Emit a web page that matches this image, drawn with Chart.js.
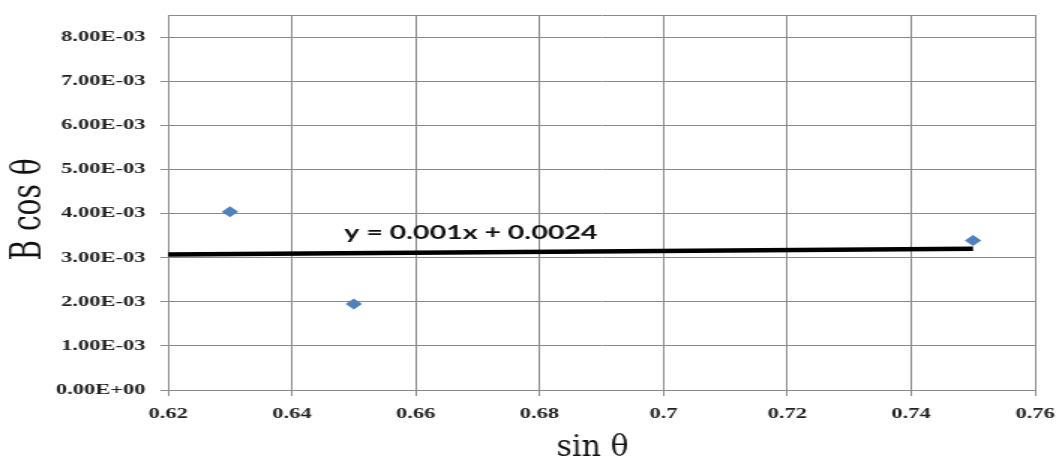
<!DOCTYPE html>
<html>
<head>
<meta charset="utf-8">
<script src="https://cdn.jsdelivr.net/npm/chart.js@4"></script>
<style>
  html, body { margin: 0; padding: 0; background: #fff; }
</style>
</head>
<body>
<!-- the original picture is stretched sideways, so the canvas is too -->
<canvas id="c" width="704" height="460" style="display:block;width:1056px;height:460px"></canvas>
<script>
// --- data ---
const sinTheta = [0.63, 0.65, 0.75];
const bCosTheta = [0.00404, 0.00195, 0.00339];

// trendline (as drawn)
const trendX = [0.62, 0.75];
const trendY = [0.00307, 0.0032];
const trendLabel = 'y = 0.001x + 0.0024';
const trendLabelAt = [0.6689, 0.00357];

// axes
const xTickVals = [0.62, 0.64, 0.66, 0.68, 0.7, 0.72, 0.74, 0.76];
const yTickVals = [0, 0.001, 0.002, 0.003, 0.004, 0.005, 0.006, 0.007, 0.008];
const yTop = 0.0085;

const STRETCH = 1056 / 704;
const gridGray = '#8a8a8a';

// 8.00E-03 style labels
function sciLabel(v) {
    if (Math.abs(v) < 1e-12) return '0.00E+00';
    const e = Math.floor(Math.log10(Math.abs(v)) + 1e-9);
    const m = (v / Math.pow(10, e)).toFixed(2);
    return m + 'E' + (e < 0 ? '-' : '+') + String(Math.abs(e)).padStart(2, '0');
}

// 1. equation text next to the trendline
const equationPlugin = {
    id: 'equation',
    afterDatasetsDraw(chart) {
        const ctx = chart.ctx;
        const x = chart.scales.x.getPixelForValue(trendLabelAt[0]);
        const y = chart.scales.y.getPixelForValue(trendLabelAt[1]);
        ctx.save();
        ctx.font = 'bold 19px Lato, "Liberation Sans", sans-serif';
        ctx.fillStyle = '#111';
        ctx.textAlign = 'center';
        ctx.textBaseline = 'middle';
        ctx.fillText(trendLabel, x, y);
        ctx.restore();
    }
};

// 2. x axis title, drawn without the sideways stretch
const xTitlePlugin = {
    id: 'xTitle',
    afterDraw(chart) {
        const ctx = chart.ctx;
        const a = chart.chartArea;
        ctx.save();
        ctx.font = '30px "DejaVu Serif", serif';
        ctx.fillStyle = '#111';
        ctx.textAlign = 'center';
        ctx.textBaseline = 'alphabetic';
        ctx.translate((a.left + a.right) / 2 - 6, chart.height - 4);
        ctx.scale(1 / STRETCH, 1);
        ctx.fillText('sin \u03b8', 0, 0);
        ctx.restore();
    }
};

new Chart(document.getElementById('c'), {
    type: 'scatter',
    data: {
        datasets: [
            {
                label: 'B cos θ',
                data: sinTheta.map((x, i) => ({ x: x, y: bCosTheta[i] })),
                pointStyle: 'rectRot',
                pointRadius: 5.5,
                backgroundColor: '#4f81bd',
                borderColor: '#4f81bd',
                borderWidth: 0,
                order: 1
            },
            {
                type: 'line',
                label: 'trend',
                data: trendX.map((x, i) => ({ x: x, y: trendY[i] })),
                borderColor: '#000',
                borderWidth: 4.5,
                pointRadius: 0,
                fill: false,
                order: 2
            }
        ]
    },
    options: {
        responsive: false,
        devicePixelRatio: 1,
        animation: false,
        layout: { padding: { left: 0, right: 14, top: 15, bottom: 28 } },
        plugins: {
            legend: { display: false },
            tooltip: { enabled: false }
        },
        scales: {
            x: {
                type: 'linear',
                min: xTickVals[0],
                max: xTickVals[xTickVals.length - 1],
                afterBuildTicks: (s) => { s.ticks = xTickVals.map(v => ({ value: v })); },
                afterFit: (s) => { s.paddingLeft = 0; s.paddingRight = 0; },
                grid: { color: gridGray, lineWidth: 1, tickLength: 6 },
                border: { color: gridGray },
                ticks: {
                    padding: 9,
                    color: '#222',
                    font: { family: '"Liberation Serif", serif', size: 15, weight: 'bold' },
                    callback: (v) => String(Number(v.toFixed(2)))
                }
            },
            y: {
                type: 'linear',
                min: 0,
                max: yTop,
                afterBuildTicks: (s) => { s.ticks = yTickVals.concat([yTop]).map(v => ({ value: v })); },
                afterFit: (s) => { s.width = 112; s.paddingTop = 0; s.paddingBottom = 0; },
                grid: {
                    color: gridGray,
                    lineWidth: 1,
                    tickLength: 5,
                    tickColor: (c) => (c.tick && c.tick.value === yTop ? 'rgba(0,0,0,0)' : gridGray)
                },
                border: { color: gridGray },
                title: {
                    display: true,
                    text: 'B cos \u03b8\u2002',
                    color: '#111',
                    font: { family: '"DejaVu Serif", serif', size: 28 },
                    padding: { top: 3, bottom: 0 }
                },
                ticks: {
                    padding: 10,
                    color: '#222',
                    font: { family: '"Liberation Serif", serif', size: 15, weight: 'bold' },
                    callback: (v) => (yTickVals.indexOf(v) >= 0 ? sciLabel(v) : '')
                }
            }
        }
    },
    plugins: [equationPlugin, xTitlePlugin]
});
</script>
</body>
</html>
